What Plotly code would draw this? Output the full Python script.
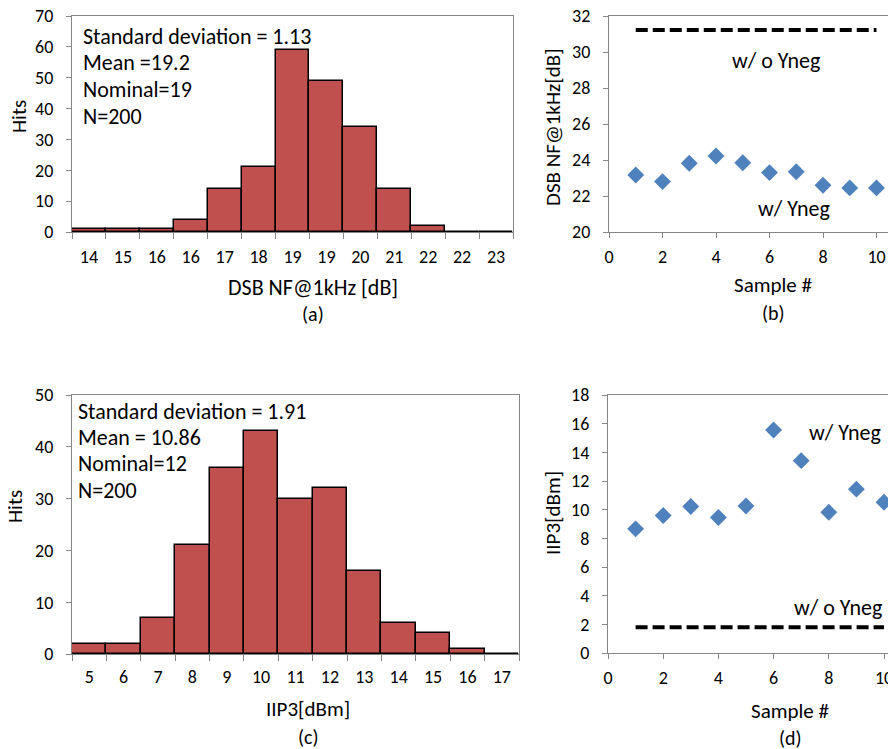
import plotly.graph_objects as go

# ---------------- data ----------------
nf_bins = ["14", "15", "16", "16", "17", "18", "19", "19", "20", "21", "22", "22", "23"]
nf_hits = [1, 1, 1, 4, 14, 21, 59, 49, 34, 14, 2, 0, 0]

iip3_bins = ["5", "6", "7", "8", "9", "10", "11", "12", "13", "14", "15", "16", "17"]
iip3_hits = [2, 2, 7, 21, 36, 43, 30, 32, 16, 6, 4, 1, 0]

samples = [1, 2, 3, 4, 5, 6, 7, 8, 9, 10]
nf_with_yneg = [23.17, 22.8, 23.82, 24.22, 23.85, 23.3, 23.35, 22.6, 22.45, 22.45]
nf_without_yneg = [31.22] * 10
iip3_with_yneg = [8.66, 9.59, 10.22, 9.45, 10.26, 15.56, 13.42, 9.82, 11.43, 10.52]
iip3_without_yneg = [1.8] * 10

nf_stats = ["Standard deviation = 1.13", "Mean =19.2", "Nominal=19", "N=200"]
iip3_stats = ["Standard deviation = 1.91", "Mean = 10.86", "Nominal=12", "N=200"]

# ---------------- style ----------------
VW, VH = 896, 749          # browser window
OFF = 8                    # default page body margin
W, H = VW - OFF, VH - OFF  # figure size so it fills the window
FONT = "Calibri, Carlito, Lato, sans-serif"
AX = "#868686"
BAR = "#C0504D"
BLUE = "#4F81BD"


def px(x):
    return (x - OFF) / W


def py(y):
    return 1 - (y - OFF) / H


fig = go.Figure()

# histogram (a)
fig.add_trace(go.Bar(x=list(range(len(nf_hits))), y=nf_hits, width=1,
                     marker=dict(color=BAR, line=dict(color="black", width=1.5)),
                     xaxis="x", yaxis="y", showlegend=False))
# histogram (c)
fig.add_trace(go.Bar(x=list(range(len(iip3_hits))), y=iip3_hits, width=1,
                     marker=dict(color=BAR, line=dict(color="black", width=1.5)),
                     xaxis="x3", yaxis="y3", showlegend=False))
# scatter (b)
fig.add_trace(go.Scatter(x=samples, y=nf_without_yneg, mode="lines",
                         line=dict(color="black", width=4, dash="12px,5px"),
                         xaxis="x2", yaxis="y2", showlegend=False, name="w/ o Yneg"))
fig.add_trace(go.Scatter(x=samples, y=nf_with_yneg, mode="markers",
                         marker=dict(symbol="diamond", size=13, color=BLUE),
                         xaxis="x2", yaxis="y2", showlegend=False, name="w/ Yneg"))
# scatter (d)
fig.add_trace(go.Scatter(x=samples, y=iip3_without_yneg, mode="lines",
                         line=dict(color="black", width=4, dash="12px,5px"),
                         xaxis="x4", yaxis="y4", showlegend=False, name="w/ o Yneg"))
fig.add_trace(go.Scatter(x=samples, y=iip3_with_yneg, mode="markers",
                         marker=dict(symbol="diamond", size=13, color=BLUE),
                         xaxis="x4", yaxis="y4", showlegend=False, name="w/ Yneg"))

tickfont = dict(family=FONT, size=18, color="black")


def hist_x(domain, labels, standoff):
    return dict(domain=domain, range=[-0.5, len(labels) - 0.5], automargin=False,
                tickmode="array", tickvals=list(range(len(labels))), ticktext=labels,
                ticks="", ticklabelstandoff=standoff, ticklabeloverflow="allow",
                showline=True, linecolor=AX, linewidth=1.2,
                mirror=True, showgrid=False, zeroline=False, tickfont=tickfont,
                minor=dict(tickmode="linear", tick0=-0.5, dtick=1, ticks="outside",
                           ticklen=6, tickcolor=AX, tickwidth=1, showgrid=False),
                fixedrange=True)


def yax(domain, rng, dtick, anchor, mirror=True):
    return dict(domain=domain, range=rng, dtick=dtick, tick0=0, anchor=anchor,
                automargin=False, ticklabeloverflow="allow",
                ticks="outside", ticklen=5, tickcolor=AX, ticklabelstandoff=9,
                showline=True, linecolor=AX, linewidth=1.2, mirror=mirror,
                showgrid=False, zeroline=False, tickfont=tickfont)


def scat_x(domain, rng, anchor):
    return dict(domain=domain, range=rng, dtick=2, tick0=0, anchor=anchor,
                automargin=False, ticklabeloverflow="allow",
                ticks="outside", ticklen=5, tickcolor=AX, ticklabelstandoff=3,
                showline=True, linecolor=AX, linewidth=1.2, mirror=True,
                showgrid=False, zeroline=False, tickfont=tickfont)


fig.update_layout(
    template="none",
    width=W, height=H, margin=dict(l=0, r=0, t=0, b=0, autoexpand=False),
    paper_bgcolor="white", plot_bgcolor="white",
    font=dict(family=FONT, color="black"),
    bargap=0,
    xaxis=dict(anchor="y", **hist_x([px(72), px(513)], nf_bins, 8)),
    yaxis=yax([py(232), py(16)], [0, 70], 10, "x"),
    xaxis3=dict(anchor="y3", **hist_x([px(72), px(519)], iip3_bins, 6)),
    yaxis3=yax([py(654), py(395)], [0, 50], 10, "x3"),
    xaxis2=scat_x([px(609), 1.0], [0, (VW - 609) / 26.75], "y2"),
    yaxis2=yax([py(232), py(16)], [20, 32], 2, "x2", mirror=False),
    xaxis4=scat_x([px(608), 1.0], [0, (VW - 608) / 27.6], "y4"),
    yaxis4=yax([py(653), py(395)], [0, 18], 2, "x4", mirror=False),
)

ann = []


def ptext(text, x, y, size=21, xanchor="center", angle=0):
    ann.append(dict(text=text, x=px(x), y=py(y), xref="paper", yref="paper",
                    xanchor=xanchor, yanchor="middle", showarrow=False, textangle=angle,
                    borderpad=0,
                    font=dict(family=FONT, size=size, color="black")))


# stats text
for i, t in enumerate(nf_stats):
    ptext(t, 82, [36, 62, 89, 117][i], size=22, xanchor="left")
for i, t in enumerate(iip3_stats):
    ptext(t, 77, [411, 437, 463, 490][i], size=22, xanchor="left")

# axis titles + captions
ptext("Hits", 19, 117, angle=-90)
ptext("DSB NF@1kHz [dB]", 313, 287, size=22)
ptext("(a)", 313, 314, size=20)
ptext("Hits", 15, 507, angle=-90)
ptext("IIP3[dBm]", 308, 709)
ptext("(c)", 308, 737, size=20)
ptext("DSB NF@1kHz[dB]", 553, 127, angle=-90)
ptext("Sample #", 773, 285)
ptext("(b)", 773, 313, size=20)
ptext("IIP3[dBm]", 553, 513, angle=-90)
ptext("Sample #", 790, 711)
ptext("(d)", 790, 738, size=20)


def dtext(text, x, y, xr, yr):
    ann.append(dict(text=text, x=x, y=y, xref=xr, yref=yr, showarrow=False,
                    xanchor="center", yanchor="middle",
                    font=dict(family=FONT, size=22, color="black")))


dtext("w/ o Yneg", 6.25, 29.5, "x2", "y2")
dtext("w/ Yneg", 6.9, 21.33, "x2", "y2")
dtext("w/ Yneg", 8.6, 15.35, "x4", "y4")
dtext("w/ o Yneg", 8.33, 3.16, "x4", "y4")

fig.update_layout(annotations=ann)
fig.write_html("out.html")
